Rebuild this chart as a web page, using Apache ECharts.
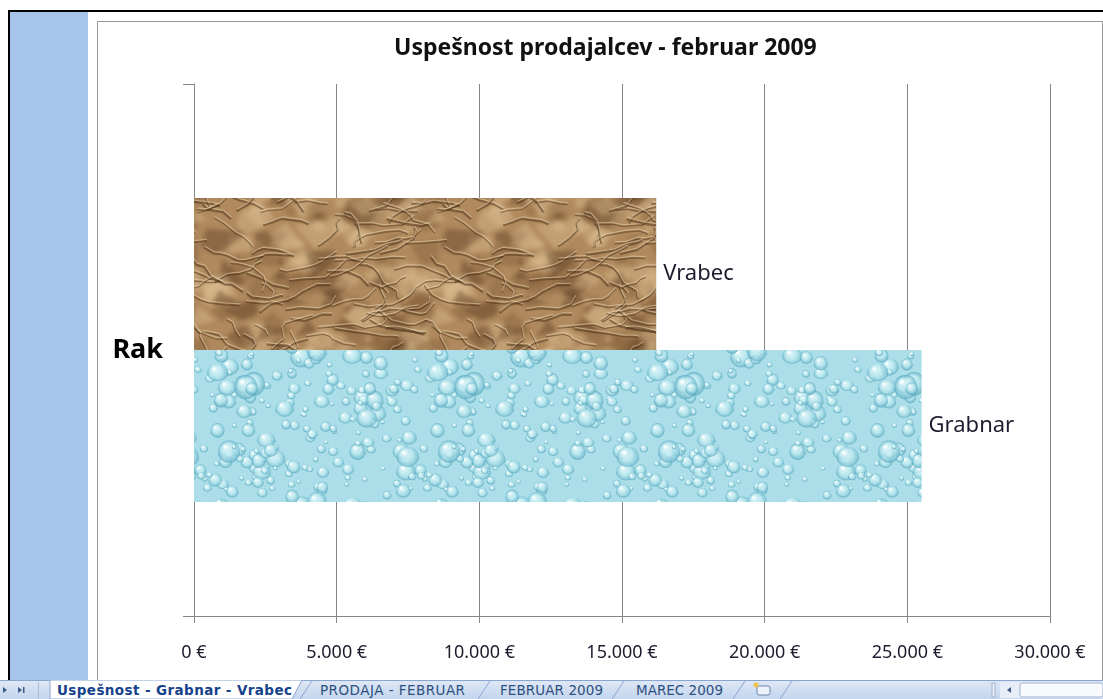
<!DOCTYPE html>
<html>
<head>
<meta charset="utf-8">
<script src="https://cdn.jsdelivr.net/npm/echarts@6/dist/echarts.min.js"></script>
<style>
  html, body { margin: 0; padding: 0; background: #fff; width: 1103px; height: 699px; overflow: hidden; }
  .frameTop { position: absolute; left: 8px; top: 10px; width: 1095px; height: 2px; background: #000; }
  .frameLeft { position: absolute; left: 8px; top: 10px; width: 2px; height: 689px; background: #000; }
  .strip { position: absolute; left: 10px; top: 12px; width: 78px; height: 668px; background: #a7c4ea; }
  .chartArea { position: absolute; left: 97px; top: 21px; width: 1004px; height: 670px; border: 1px solid #9a9a9a; background: #fff; }
  #main { position: absolute; left: 0; top: 0; width: 1103px; height: 699px; }
  #tabs { position: absolute; left: 0; top: 680px; width: 1103px; height: 19px; }
</style>
</head>
<body>
<div class="frameTop"></div>
<div class="frameLeft"></div>
<div class="strip"></div>
<div class="chartArea"></div>
<div id="main"></div>
<svg id="tabs" width="1103" height="19" xmlns="http://www.w3.org/2000/svg">
  <defs>
    <linearGradient id="bar" x1="0" y1="0" x2="0" y2="1">
      <stop offset="0" stop-color="#dfe8f5"/>
      <stop offset="1" stop-color="#c3d5ee"/>
    </linearGradient>
  </defs>
  <rect x="0" y="0" width="1103" height="19" fill="url(#bar)"/>
  <line x1="0" y1="0.5" x2="1103" y2="0.5" stroke="#8aa6cf"/>
  <!-- navigation arrows -->
  <path d="M3 7 L7 10 L3 13 Z" fill="#3b5a86"/>
  <path d="M18 7 L22 10 L18 13 Z" fill="#3b5a86"/>
  <rect x="23" y="7" width="1.5" height="6" fill="#3b5a86"/>
  <line x1="38.5" y1="2" x2="38.5" y2="19" stroke="#a9bcd8"/>
  <!-- active tab -->
  <path d="M50 0 L302 0 L292 19 L50 19 Z" fill="#ffffff" stroke="#8aa6cf"/>
  <text x="57" y="15" font-family="DejaVu Sans, Liberation Sans, sans-serif" font-size="13.5" font-weight="bold" fill="#15428b" textLength="235">Uspešnost - Grabnar - Vrabec</text>
  <!-- other tabs -->
  <line x1="300" y1="19" x2="312" y2="1" stroke="#8aa6cf"/>
  <text x="320" y="15" font-family="DejaVu Sans, Liberation Sans, sans-serif" font-size="13.5" fill="#2d4f80" textLength="145">PRODAJA - FEBRUAR</text>
  <line x1="478" y1="19" x2="490" y2="1" stroke="#8aa6cf"/>
  <text x="500" y="15" font-family="DejaVu Sans, Liberation Sans, sans-serif" font-size="13.5" fill="#2d4f80" textLength="103">FEBRUAR 2009</text>
  <line x1="612" y1="19" x2="624" y2="1" stroke="#8aa6cf"/>
  <text x="636" y="15" font-family="DejaVu Sans, Liberation Sans, sans-serif" font-size="13.5" fill="#2d4f80" textLength="87">MAREC 2009</text>
  <line x1="733" y1="19" x2="745" y2="1" stroke="#8aa6cf"/>
  <rect x="757" y="6" width="13" height="9" rx="2" fill="#eef3fa" stroke="#6d87ae"/>
  <circle cx="756" cy="5" r="2.5" fill="#f2c24a"/>
  <line x1="780" y1="19" x2="792" y2="1" stroke="#8aa6cf"/>
  <!-- scroll bar -->
  <rect x="992" y="3" width="3" height="14" fill="#e9eff8" stroke="#9fb3d1"/>
  <rect x="1000" y="2" width="103" height="16" fill="#e6edf7"/>
  <path d="M1011 7 L1007 10 L1011 13 Z" fill="#3b5a86"/>
  <rect x="1020" y="3" width="83" height="14" rx="2" fill="#f7f9fc" stroke="#9fb3d1"/>
</svg>
<script>
// podatki
const categories = ['Rak'];
const sellers = ['Vrabec', 'Grabnar'];
const sales = [16200, 25500];
const xTicks = { min: 0, max: 30000, step: 5000 };

// deterministic pseudo random for textures
function rnd(seed) {
  return function () {
    seed |= 0; seed = seed + 0x6D2B79F5 | 0;
    let t = Math.imul(seed ^ seed >>> 15, 1 | seed);
    t = t + Math.imul(t ^ t >>> 7, 61 | t) ^ t;
    return ((t ^ t >>> 14) >>> 0) / 4294967296;
  };
}

// draw shape also on the wrapped sides so the tile repeats without seams
function wrapped(w, h, fn) {
  for (const dx of [-w, 0, w]) {
    for (const dy of [-h, 0, h]) fn(dx, dy);
  }
}

// zmečkan papir
function paperTexture() {
  const c = document.createElement('canvas');
  const w = 240, h = 150;
  c.width = w; c.height = h;
  const g = c.getContext('2d');
  const r = rnd(7);
  g.fillStyle = '#b08a5e';
  g.fillRect(0, 0, w, h);
  // soft facets
  g.filter = 'blur(2px)';
  for (let i = 0; i < 110; i++) {
    const x = r() * w, y = r() * h;
    const pts = [];
    const n = 3 + Math.floor(r() * 3);
    const rad = 8 + r() * 20;
    for (let k = 0; k < n; k++) {
      const a = (k / n) * Math.PI * 2 + r() * 0.8;
      const rr = rad * (0.5 + r() * 0.6);
      pts.push([Math.cos(a) * rr, Math.sin(a) * rr * 0.7]);
    }
    const v = r();
    g.fillStyle = v > 0.55 ? 'rgba(222,192,148,0.4)' : (v > 0.2 ? 'rgba(120,84,48,0.35)' : 'rgba(85,56,30,0.4)');
    wrapped(w, h, (dx, dy) => {
      g.beginPath();
      pts.forEach((p, j) => j ? g.lineTo(x + dx + p[0], y + dy + p[1]) : g.moveTo(x + dx + p[0], y + dy + p[1]));
      g.closePath(); g.fill();
    });
  }
  g.filter = 'none';
  // creases
  for (let i = 0; i < 70; i++) {
    let x = r() * w, y = r() * h;
    const pts = [[0, 0]];
    let px = 0, py = 0;
    const n = 3 + Math.floor(r() * 4);
    let ang = (r() - 0.5) * 1.6;
    for (let k = 0; k < n; k++) {
      ang += (r() - 0.5) * 1.6;
      const len = 6 + r() * 14;
      px += Math.cos(ang) * len; py += Math.sin(ang) * len * 0.6;
      pts.push([px, py]);
    }
    const width = 1 + r() * 1.6;
    wrapped(w, h, (dx, dy) => {
      g.lineWidth = width;
      g.strokeStyle = 'rgba(78,50,24,0.5)';
      g.beginPath();
      pts.forEach((p, j) => j ? g.lineTo(x + dx + p[0], y + dy + p[1]) : g.moveTo(x + dx + p[0], y + dy + p[1]));
      g.stroke();
      g.lineWidth = 1.2;
      g.strokeStyle = 'rgba(236,214,178,0.5)';
      g.beginPath();
      pts.forEach((p, j) => j ? g.lineTo(x + dx + p[0] + 0.5, y + dy + p[1] - 1.8) : g.moveTo(x + dx + p[0] + 0.5, y + dy + p[1] - 1.8));
      g.stroke();
    });
  }
  return c;
}

// kapljice vode
function waterTexture() {
  const c = document.createElement('canvas');
  const w = 220, h = 150;
  c.width = w; c.height = h;
  const g = c.getContext('2d');
  const r = rnd(11);
  g.fillStyle = '#abdee8';
  g.fillRect(0, 0, w, h);
  for (let i = 0; i < 190; i++) {
    const x = r() * w, y = r() * h;
    const rx = 2 + r() * r() * 11, ry = rx * (0.75 + r() * 0.35);
    wrapped(w, h, (dx, dy) => {
      const cx = x + dx, cy = y + dy;
      const gr = g.createRadialGradient(cx - rx * 0.3, cy - ry * 0.4, 0.5, cx, cy, rx);
      gr.addColorStop(0, 'rgba(236,250,252,0.9)');
      gr.addColorStop(0.55, 'rgba(190,234,240,0.75)');
      gr.addColorStop(1, 'rgba(105,180,202,0.75)');
      g.fillStyle = gr;
      g.beginPath(); g.ellipse(cx, cy, rx, ry, 0, 0, Math.PI * 2); g.fill();
      g.strokeStyle = 'rgba(80,160,182,0.55)';
      g.lineWidth = 0.8;
      g.beginPath(); g.ellipse(cx, cy, rx, ry, 0, 0.1, Math.PI - 0.1); g.stroke();
      g.fillStyle = 'rgba(255,255,255,0.85)';
      g.beginPath(); g.arc(cx - rx * 0.35, cy - ry * 0.4, Math.max(0.7, rx * 0.16), 0, Math.PI * 2); g.fill();
    });
  }
  return c;
}

const fills = [
  { image: paperTexture(), repeat: 'repeat' },
  { image: waterTexture(), repeat: 'repeat' }
];

function euro(v) {
  return String(v).replace(/\B(?=(\d{3})+(?!\d))/g, '.') + ' €';
}

const chart = echarts.init(document.getElementById('main'), null, { renderer: 'canvas' });
const gray = '#868686';
const option = {
  animation: false,
  backgroundColor: 'transparent',
  textStyle: { fontFamily: 'Noto Sans' },
  title: {
    text: 'Uspešnost prodajalcev - februar 2009',
    left: 389,
    top: 32,
    textStyle: { fontFamily: 'Noto Sans', fontSize: 23, fontWeight: 'bold', color: '#111' }
  },
  grid: { left: 194, right: 53, top: 84, bottom: 83 },
  xAxis: {
    type: 'value',
    min: xTicks.min,
    max: xTicks.max,
    interval: xTicks.step,
    axisLine: { show: true, lineStyle: { color: gray } },
    axisTick: { show: true, length: 7, lineStyle: { color: gray } },
    splitLine: { show: true, lineStyle: { color: gray, width: 1 } },
    axisLabel: { formatter: euro, margin: 28, fontSize: 18, color: '#1c1c2e', fontFamily: 'Noto Sans' }
  },
  yAxis: {
    type: 'category',
    data: categories,
    axisLine: { show: true, lineStyle: { color: gray } },
    axisTick: { show: true, length: 11, lineStyle: { color: gray } },
    axisLabel: { margin: 31, fontSize: 27, fontWeight: 'bold', color: '#000', fontFamily: 'Noto Sans' }
  },
  series: sellers.map((name, i) => ({
    name: name,
    type: 'bar',
    data: [sales[i]],
    barWidth: 152,
    barGap: '0%',
    itemStyle: { color: fills[i] },
    label: {
      show: true,
      position: 'right',
      distance: 7,
      formatter: '{a}',
      fontSize: 22,
      color: '#1c1c2e',
      fontFamily: 'Noto Sans'
    }
  }))
};
chart.setOption(option);
</script>
</body>
</html>
